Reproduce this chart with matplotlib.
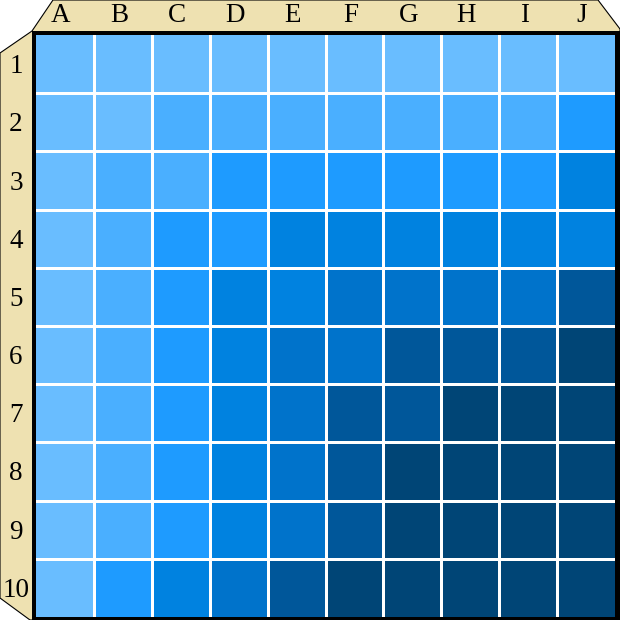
import matplotlib
matplotlib.use("Agg")
import matplotlib.pyplot as plt
import numpy as np
from matplotlib.colors import ListedColormap, BoundaryNorm
from matplotlib.patches import Polygon, Rectangle

# ---- data ----
columns = ["A", "B", "C", "D", "E", "F", "G", "H", "I", "J"]
rows = ["1", "2", "3", "4", "5", "6", "7", "8", "9", "10"]
# intensity level of each cell (0 = lightest, 6 = darkest)
row_1 = [0, 0, 0, 0, 0, 0, 0, 0, 0, 0]
row_2 = [0, 0, 1, 1, 1, 1, 1, 1, 1, 2]
row_3 = [0, 1, 1, 2, 2, 2, 2, 2, 2, 3]
row_4 = [0, 1, 2, 2, 3, 3, 3, 3, 3, 3]
row_5 = [0, 1, 2, 3, 3, 4, 4, 4, 4, 5]
row_6 = [0, 1, 2, 3, 4, 4, 5, 5, 5, 6]
row_7 = [0, 1, 2, 3, 4, 5, 5, 6, 6, 6]
row_8 = [0, 1, 2, 3, 4, 5, 6, 6, 6, 6]
row_9 = [0, 1, 2, 3, 4, 5, 6, 6, 6, 6]
row_10 = [0, 2, 3, 4, 5, 6, 6, 6, 6, 6]
level_colors = ["#69BDFF", "#4AAFFF", "#1E9BFF", "#0082E0",
                "#0073CB", "#00579A", "#004576"]

values = np.array([row_1, row_2, row_3, row_4, row_5,
                   row_6, row_7, row_8, row_9, row_10])

W = H = 620
fig = plt.figure(figsize=(W / 100, H / 100), dpi=100)
fig.patch.set_facecolor("white")

# background axes in pixel coordinates for the frame
bg = fig.add_axes([0, 0, 1, 1])
bg.set_xlim(0, W)
bg.set_ylim(H, 0)
bg.axis("off")

tan = "#EEE1B1"
frame = Polygon([(53, 0), (598, 0), (620, 29), (620, 620), (30, 620),
                 (0, 598), (0, 53), (32, 31)], closed=True,
                facecolor=tan, edgecolor="black", linewidth=0.8)
bg.add_patch(frame)
bg.add_patch(Rectangle((32, 31), 620 - 32, 620 - 31, facecolor="black",
                       edgecolor="none"))

# grid area
x0, x1 = 36, 615
y0, y1 = 35, 617
ax = fig.add_axes([x0 / W, (H - y1) / H, (x1 - x0) / W, (y1 - y0) / H])
ax.set_zorder(2)
cmap = ListedColormap(level_colors)
norm = BoundaryNorm(np.arange(-0.5, len(level_colors)), cmap.N)
ax.pcolormesh(np.arange(11), np.arange(11), values, cmap=cmap, norm=norm)
ax.set_xlim(0, 10)
ax.set_ylim(10, 0)
gap = 3 * 72 / 100
for k in range(1, 10):
    ax.axvline(k, color="white", linewidth=gap)
    ax.axhline(k, color="white", linewidth=gap)
ax.set_xticks([])
ax.set_yticks([])
for s in ax.spines.values():
    s.set_visible(False)

# labels
colw = (x1 - x0) / 10
rowh = (y1 - y0) / 10
font = dict(family="Liberation Serif", fontsize=19.5, color="black")
for i, c in enumerate(columns):
    bg.text(x0 + (i + 0.5) * colw - 4, 22, c, ha="center", va="baseline", **font)
for j, r in enumerate(rows):
    bg.text(16, y0 + (j + 0.5) * rowh + 9, r, ha="center", va="baseline", **font)

fig.savefig("out.png", dpi=100, facecolor="white")
